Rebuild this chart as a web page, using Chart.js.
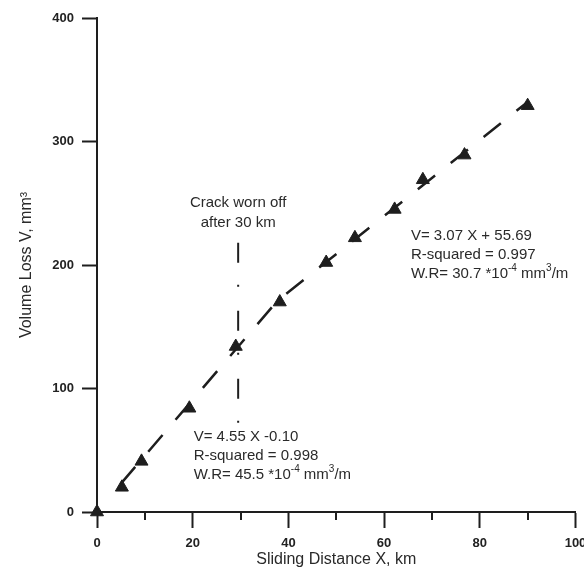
<!DOCTYPE html>
<html>
<head>
<meta charset="utf-8">
<script src="https://cdn.jsdelivr.net/npm/chart.js@4.4.1/dist/chart.umd.min.js"></script>
<style>
  html, body { margin: 0; padding: 0; background: #fff; }
  #wrap { width: 584px; height: 577px; }
</style>
</head>
<body>
<div id="wrap"><canvas id="chart"></canvas></div>
<script>
// 测量点 (滑动距离 km, 体积损失 mm3)
const distance = [0, 5.2, 9.3, 19.3, 29.0, 38.2, 47.9, 53.9, 62.2, 68.1, 76.8, 90.0];
const volumeLoss = [0, 20, 41, 84, 134, 170, 202, 222, 245, 269, 289, 329];

// 拟合虚线 (两段交于约 38 km)
const fitX = [5, 37.7, 90];
const fitY = [23, 171, 332];

// 30 km 处的点划线
const crackX = [29.5, 29.5];
const crackY = [218, 72];

// 坐标轴刻度
const xMajorStep = 20;
const xMinorTicks = [10, 30, 50, 70, 90];
const yStep = 100;

// 注释文字, ^...^ 表示上标
const notes = [
  { x: 29.5, y: 250, align: 'center', gap: 20, lines: ['Crack worn off', 'after 30 km'] },
  { x: 65.6, y: 224, align: 'left', gap: 19,
    lines: ['V= 3.07 X + 55.69', 'R-squared = 0.997', 'W.R= 30.7 *10^-4^ mm^3^/m'] },
  { x: 20.2, y: 61, align: 'left', gap: 19,
    lines: ['V= 4.55 X -0.10', 'R-squared = 0.998', 'W.R= 45.5 *10^-4^ mm^3^/m'] }
];

const INK = '#1e1e1e';
const FONT = '"Liberation Sans", Arial, sans-serif';

const toPoints = (xs, ys) => xs.map((x, i) => ({ x: x, y: ys[i] }));

// x 轴次刻度
const minorTickPlugin = {
  id: 'minorTicks',
  afterDraw(chart) {
    const { ctx, chartArea } = chart;
    const xs = chart.scales.x;
    ctx.save();
    ctx.strokeStyle = INK;
    ctx.lineWidth = 2;
    xMinorTicks.forEach(v => {
      const px = Math.round(xs.getPixelForValue(v));
      ctx.beginPath();
      ctx.moveTo(px, chartArea.bottom);
      ctx.lineTo(px, chartArea.bottom + 8);
      ctx.stroke();
    });
    ctx.restore();
  }
};

// 带上标的注释
function drawRich(ctx, text, x, y, align) {
  const parts = text.split('^');
  const base = '15px ' + FONT;
  const sup = '10px ' + FONT;
  let total = 0;
  parts.forEach((p, i) => {
    ctx.font = i % 2 ? sup : base;
    total += ctx.measureText(p).width;
  });
  let cx = align === 'center' ? x - total / 2 : x;
  parts.forEach((p, i) => {
    ctx.font = i % 2 ? sup : base;
    ctx.fillText(p, cx, i % 2 ? y - 5 : y);
    cx += ctx.measureText(p).width;
  });
}

const notePlugin = {
  id: 'notes',
  afterDraw(chart) {
    const { ctx } = chart;
    const xs = chart.scales.x, ys = chart.scales.y;
    ctx.save();
    ctx.fillStyle = '#2a2a2a';
    ctx.textAlign = 'left';
    ctx.textBaseline = 'middle';
    notes.forEach(n => {
      const px = xs.getPixelForValue(n.x);
      const py = ys.getPixelForValue(n.y);
      n.lines.forEach((line, i) => drawRich(ctx, line, px, py + i * n.gap, n.align));
    });
    ctx.restore();
  }
};

const axisCommon = {
  border: { color: INK, width: 2 },
  grid: { drawOnChartArea: false, drawTicks: true, tickLength: 16, tickColor: INK, tickWidth: 2 },
};

new Chart(document.getElementById('chart'), {
  type: 'scatter',
  data: {
    datasets: [
      {
        data: toPoints(crackX, crackY),
        showLine: true,
        borderColor: INK,
        borderWidth: 2,
        borderDash: [20, 22, 2, 24],
        pointRadius: 0
      },
      {
        data: toPoints(fitX, fitY),
        showLine: true,
        borderColor: INK,
        borderWidth: 2.5,
        borderDash: [22, 20],
        pointRadius: 0,
        tension: 0
      },
      {
        data: toPoints(distance, volumeLoss),
        pointStyle: 'triangle',
        pointRadius: 7.5,
        backgroundColor: INK,
        borderColor: INK,
        borderWidth: 1,
        clip: false
      }
    ]
  },
  options: {
    responsive: true,
    maintainAspectRatio: false,
    animation: false,
    layout: { padding: { left: 0, right: 7, top: 18, bottom: 0 } },
    plugins: {
      legend: { display: false },
      tooltip: { enabled: false }
    },
    scales: {
      x: {
        ...axisCommon,
        min: 0,
        max: 100,
        ticks: {
          stepSize: xMajorStep,
          padding: 8,
          color: '#222',
          font: { family: FONT, size: 13, weight: 'bold' }
        },
        title: {
          display: true,
          text: 'Sliding Distance X, km',
          color: '#2a2a2a',
          font: { family: FONT, size: 16 },
          padding: { top: 0, bottom: 8 }
        },
        afterFit(scale) {
          scale.height = 65;
          scale.paddingLeft = 0;
          scale.paddingRight = 0;
        }
      },
      y: {
        ...axisCommon,
        min: 0,
        max: 400,
        grid: { ...axisCommon.grid, tickLength: 15 },
        ticks: {
          stepSize: yStep,
          padding: 8,
          color: '#222',
          font: { family: FONT, size: 13, weight: 'bold' }
        },
        title: {
          display: true,
          text: 'Volume Loss V, mm³',
          color: '#2a2a2a',
          font: { family: FONT, size: 16 },
          padding: { top: 17, bottom: 0 }
        },
        afterFit(scale) {
          scale.width = 97;
          scale.paddingTop = 0;
          scale.paddingBottom = 0;
        }
      }
    }
  },
  plugins: [minorTickPlugin, notePlugin]
});
</script>
</body>
</html>
